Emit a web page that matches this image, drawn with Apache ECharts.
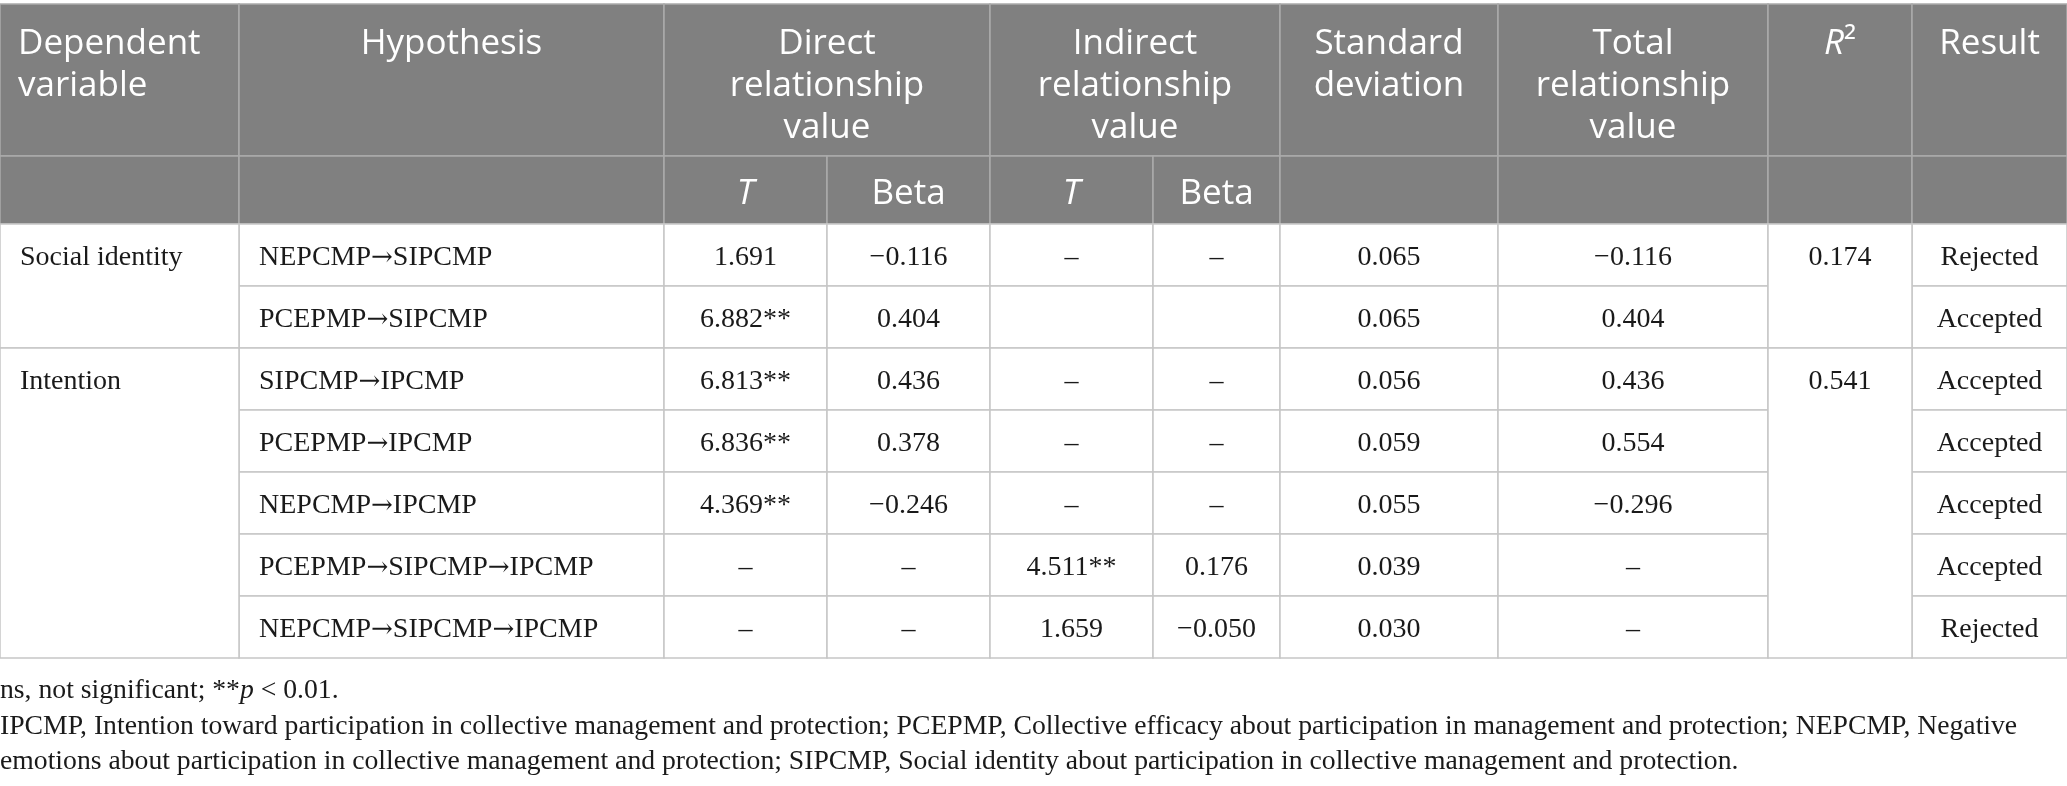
<!DOCTYPE html>
<html lang="en">
<head>
<meta charset="UTF-8">
<title>Hypothesis test results</title>
<script src="https://cdn.jsdelivr.net/npm/echarts@6.0.0/dist/echarts.min.js"></script>
<style>
    html, body { margin: 0; padding: 0; overflow: hidden; background: #fff; }
    #chart { width: 2067px; height: 786px; }
</style>
</head>
<body>
<div id="chart"></div>
<script>
    // ---- table content ----
    const headerTop = ['Dependent\nvariable', 'Hypothesis', 'Direct\nrelationship\nvalue', 'Indirect\nrelationship\nvalue',
        'Standard\ndeviation', 'Total\nrelationship\nvalue', '{i|R}{n|²}', 'Result'];
    const headerSpans = [1, 1, 2, 2, 1, 1, 1, 1];
    const headerSub = ['', '', '{i|T}', 'Beta', '{i|T}', 'Beta', '', '', '', ''];

    const dependentVars = ['Social identity', 'Intention'];
    const groupSizes = [2, 5];
    const hypotheses = ['NEPCMP→SIPCMP', 'PCEPMP→SIPCMP', 'SIPCMP→IPCMP', 'PCEPMP→IPCMP', 'NEPCMP→IPCMP',
        'PCEPMP→SIPCMP→IPCMP', 'NEPCMP→SIPCMP→IPCMP'];
    // null = dash, '' = empty cell
    const directT = [1.691, 6.882, 6.813, 6.836, 4.369, null, null];
    const directSig = ['', '**', '**', '**', '**', '', ''];
    const directBeta = [-0.116, 0.404, 0.436, 0.378, -0.246, null, null];
    const indirectT = [null, '', null, null, null, 4.511, 1.659];
    const indirectSig = ['', '', '', '', '', '**', ''];
    const indirectBeta = [null, '', null, null, null, 0.176, -0.050];
    const stdDev = [0.065, 0.065, 0.056, 0.059, 0.055, 0.039, 0.030];
    const totalValue = [-0.116, 0.404, 0.436, 0.554, -0.296, null, null];
    const rSquared = [0.174, 0.541];
    const results = ['Rejected', 'Accepted', 'Accepted', 'Accepted', 'Accepted', 'Accepted', 'Rejected'];

    const footnotes = [
        '{n|ns, not significant; **}{i|p}{n| < 0.01.}',
        '{n|IPCMP, Intention toward participation in collective management and protection; PCEPMP, Collective efficacy about participation in management and protection; NEPCMP, Negative}',
        '{n|emotions about participation in collective management and protection; SIPCMP, Social identity about participation in collective management and protection.}'
    ];

    // ---- layout (page units) ----
    const W = 2067, H = 786;
    const colEdges = [0, 239, 664, 827, 990, 1153, 1280, 1498, 1768, 1912, 2067];
    const rowEdges = [4, 156, 224, 286, 348, 410, 472, 534, 596, 658];
    const footY = [691, 727, 762];

    const SANS = '"Open Sans", "Noto Sans", sans-serif';
    const SERIF = '"Liberation Serif", "DejaVu Serif", serif';

    const styles = {
        head: { fill: '#808080', stroke: '#ababab', color: '#ffffff', font: SANS, size: 35, lineHeight: 42, dy: 19 },
        sub: { fill: '#808080', stroke: '#ababab', color: '#ffffff', font: SANS, size: 35, lineHeight: 42, dy: 4 },
        body: { fill: '#ffffff', stroke: '#c6c6c6', color: '#1a1a1a', font: SERIF, size: 28, lineHeight: 34, dy: 3 }
    };

    function fmt(v, sig) {
        if (v === '') return '';
        if (v === null) return '–';
        return (v < 0 ? '−' : '') + Math.abs(v).toFixed(3) + (sig || '');
    }

    // arrows are set in a separate font so they keep a long shaft
    function arrowRich(s) {
        return s.split('→').map(p => '{n|' + p + '}').join('{a|→}');
    }

    // build cell list
    const cells = [];
    function addCell(c0, c1, r0, r1, text, kind, align, textRow) {
        const tr = textRow === undefined ? r0 : textRow;
        const st = styles[kind];
        const ty = kind === 'head' ? rowEdges[r0] + st.dy : (rowEdges[tr] + rowEdges[tr + 1]) / 2 + st.dy;
        cells.push({ value: [colEdges[c0], rowEdges[r0], colEdges[c1], rowEdges[r1], ty], text: text, kind: kind, align: align });
    }

    let c = 0;
    headerTop.forEach((t, i) => {
        addCell(c, c + headerSpans[i], 0, 1, t, 'head', i === 0 ? 'left' : 'center');
        c += headerSpans[i];
    });
    headerSub.forEach((t, i) => addCell(i, i + 1, 1, 2, t, 'sub', 'center'));

    const bodyCols = [
        hypotheses.map(arrowRich),
        directT.map((v, i) => fmt(v, directSig[i])),
        directBeta.map(v => fmt(v)),
        indirectT.map((v, i) => fmt(v, indirectSig[i])),
        indirectBeta.map(v => fmt(v)),
        stdDev.map(v => fmt(v)),
        totalValue.map(v => fmt(v))
    ];
    hypotheses.forEach((h, r) => {
        bodyCols.forEach((col, k) => addCell(k + 1, k + 2, r + 2, r + 3, col[r], 'body', k === 0 ? 'left' : 'center'));
        addCell(9, 10, r + 2, r + 3, results[r], 'body', 'center');
    });
    let start = 2;
    dependentVars.forEach((d, g) => {
        const end = start + groupSizes[g];
        addCell(0, 1, start, end, d, 'body', 'left', start);
        addCell(8, 9, start, end, fmt(rSquared[g]), 'body', 'center', start);
        start = end;
    });

    function renderCell(params, api) {
        const cell = cells[params.dataIndex];
        const st = styles[cell.kind];
        const p0 = api.coord([api.value(0), api.value(1)]);
        const p1 = api.coord([api.value(2), api.value(3)]);
        const children = [{
            type: 'rect',
            shape: { x: p0[0], y: p0[1], width: p1[0] - p0[0], height: p1[1] - p0[1] },
            style: { fill: st.fill, stroke: st.stroke, lineWidth: 1.5 }
        }];
        if (cell.text) {
            const ty = api.coord([0, api.value(4)])[1];
            const tx = cell.align === 'left' ? p0[0] + (cell.kind === 'body' ? 20 : 18) : (p0[0] + p1[0]) / 2;
            const base = { fill: st.color, fontFamily: st.font, fontSize: st.size, lineHeight: st.lineHeight };
            children.push({
                type: 'text',
                x: tx,
                y: ty,
                style: Object.assign({}, base, {
                    text: cell.text,
                    align: cell.align,
                    verticalAlign: cell.kind === 'head' ? 'top' : 'middle',
                    rich: {
                        i: Object.assign({}, base, { fontStyle: 'italic' }),
                        n: Object.assign({}, base),
                        a: Object.assign({}, base, { fontFamily: '"DejaVu Serif", serif', fontSize: 26 })
                    }
                })
            });
        }
        return { type: 'group', children: children };
    }

    const footBase = { fill: '#1a1a1a', fontFamily: SERIF, fontSize: 27.7 };
    const chart = echarts.init(document.getElementById('chart'));
    chart.setOption({
        animation: false,
        grid: { left: 0, right: 0, top: 0, bottom: 0 },
        xAxis: { type: 'value', min: 0, max: W, show: false },
        yAxis: { type: 'value', min: 0, max: H, inverse: true, show: false },
        graphic: footnotes.map((t, i) => ({
            type: 'text',
            x: 0,
            y: footY[i],
            style: Object.assign({}, footBase, {
                text: t,
                verticalAlign: 'middle',
                rich: {
                    n: Object.assign({}, footBase),
                    i: Object.assign({}, footBase, { fontStyle: 'italic' })
                }
            })
        })),
        series: [{
            type: 'custom',
            coordinateSystem: 'cartesian2d',
            renderItem: renderCell,
            data: cells.map(d => d.value),
            silent: true
        }]
    });
</script>
</body>
</html>
